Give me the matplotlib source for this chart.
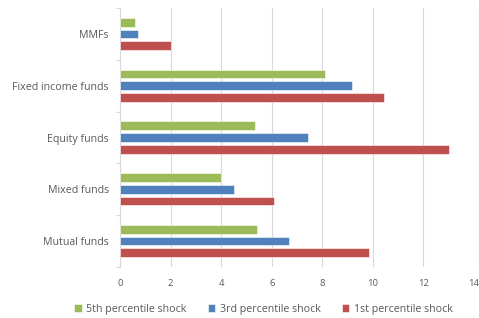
import numpy as np
import matplotlib.pyplot as plt
from matplotlib.ticker import MultipleLocator, FixedLocator

# categories from bottom to top
categories = ['Mutual funds', 'Mixed funds', 'Equity funds', 'Fixed income funds', 'MMFs']
shock_5th = [5.4, 4.0, 5.35, 8.1, 0.6]
shock_3rd = [6.68, 4.5, 7.43, 9.17, 0.73]
shock_1st = [9.83, 6.1, 13.0, 10.43, 2.0]

plt.rcParams['font.family'] = ['Open Sans', 'DejaVu Sans']
text_col = '#595959'
grid_col = '#d9d9d9'

fig = plt.figure(figsize=(4.79, 3.18), dpi=100)
ax = fig.add_axes([0.2505, 0.1604, 0.739, 0.8144])

y = np.arange(len(categories))
h = 0.17
step = 0.225
ax.barh(y + step, shock_5th, height=h, color='#9BBB59', edgecolor='white', linewidth=0.4,
        label='5th percentile shock', zorder=3)
ax.barh(y, shock_3rd, height=h, color='#4F81BD', edgecolor='white', linewidth=0.4,
        label='3rd percentile shock', zorder=3)
ax.barh(y - step, shock_1st, height=h, color='#C0504D', edgecolor='white', linewidth=0.4,
        label='1st percentile shock', zorder=3)

ax.set_xlim(0, 14)
ax.set_ylim(-0.5, 4.5)
ax.xaxis.set_major_locator(MultipleLocator(2))
ax.set_yticks(y)
ax.set_yticklabels(categories)
ax.yaxis.set_minor_locator(FixedLocator(np.arange(-0.5, 4.6, 1.0)))
ax.tick_params(axis='y', which='major', length=0, pad=8, labelsize=7.7, labelcolor=text_col)
ax.tick_params(axis='y', which='minor', length=3, color=grid_col, width=0.8)
ax.tick_params(axis='x', length=0, pad=9, labelsize=6.8, labelcolor=text_col)

ax.grid(axis='x', color=grid_col, linewidth=0.8, zorder=0)
for s in ['top', 'right', 'bottom']:
    ax.spines[s].set_visible(False)
ax.spines['left'].set_color(grid_col)
ax.spines['left'].set_linewidth(0.8)

fig.legend(loc='lower center', bbox_to_anchor=(0.55, -0.02), ncol=3, frameon=False,
           fontsize=7.7, labelcolor=text_col, handlelength=0.7, handleheight=0.7,
           handletextpad=0.4, columnspacing=2.0)

fig.savefig('out.png', dpi=100)
